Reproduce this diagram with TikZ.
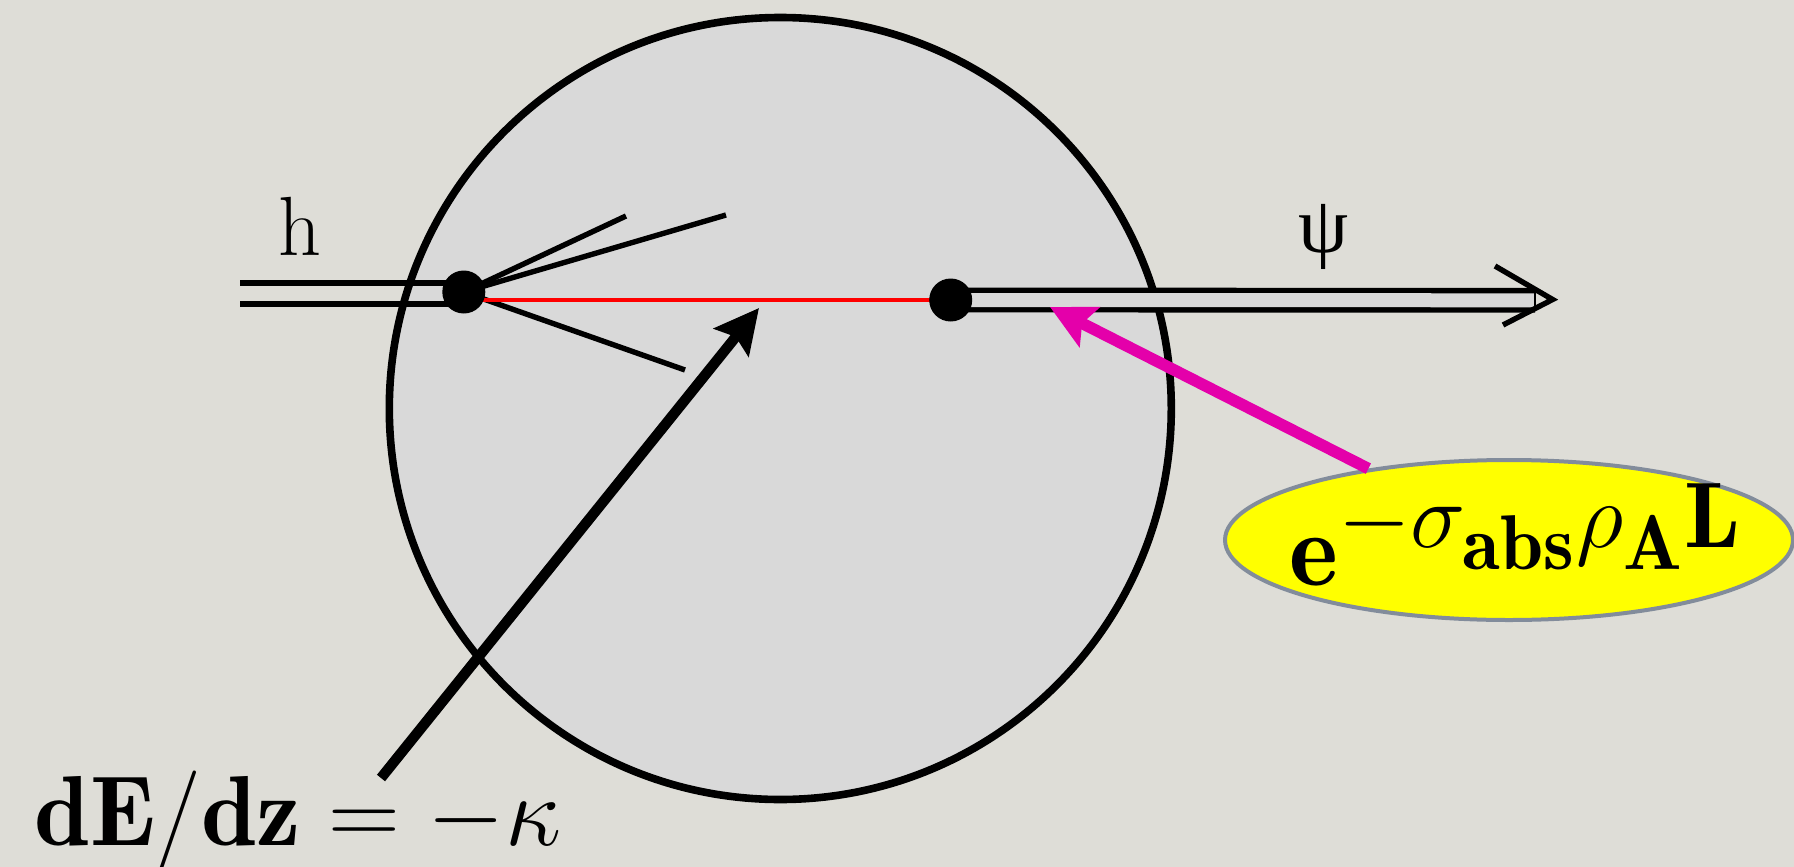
\documentclass[tikz,border=0pt]{standalone}
\usepackage{fontspec}
\newfontfamily\psifont{Liberation Serif}
\usetikzlibrary{arrows.meta,shapes.geometric}
\definecolor{bgc}{RGB}{222,221,215}
\definecolor{nucfill}{RGB}{217,217,217}
\definecolor{magarrow}{RGB}{228,0,170}
\definecolor{ellborder}{RGB}{130,140,155}
\definecolor{ellfill}{RGB}{255,255,0}
\pgfdeclarelayer{back}
\pgfdeclarelayer{lines}
\pgfsetlayers{back,lines,main}
\begin{document}
\begin{tikzpicture}[x=0.5pt,y=-0.5pt,
  dotnode/.style={circle,fill=black,inner sep=0pt,minimum size=21.5pt},
  trackline/.style={line width=2.7pt},
  redtrack/.style={line width=2.4pt,red},
  blackarrow/.style={line width=5.2pt,-{Stealth[length=22pt,width=22pt,inset=3.5pt]}},
  magentaarrow/.style={line width=5.8pt,magarrow,-{Stealth[length=22pt,width=22pt,inset=4pt]}},
  bigmath/.style={font=\Huge,inner sep=0pt}]
\useasboundingbox (0,0) rectangle (1794,867);
\begin{pgfonlayer}{back}
  \fill[bgc] (0,0) rectangle (1794,867);
  \node[circle,draw=black,fill=nucfill,line width=3.8pt,minimum size=391pt,inner sep=0pt] (nucleus) at (780.3,408.5) {};
\end{pgfonlayer}
% dots
\node[dotnode] (dot1) at (463.8,292) {};
\node[dotnode] (dot2) at (950.7,300) {};
% free ends
\coordinate (hin) at (240,293.5);
\coordinate (hend) at (463.8,293.5);
\coordinate (s1) at (626,216);
\coordinate (s2) at (726,215);
\coordinate (s3) at (685,370);
\coordinate (psiend) at (1535,300.3);
\coordinate (psitip) at (1552.6,299.5);
\coordinate (psiarmA) at (1495,266);
\coordinate (psiarmB) at (1503,325);
\coordinate (arrtail) at (381,778);
\coordinate (arrtip) at (759,308);
\coordinate (magtip) at (1050,307);
\begin{pgfonlayer}{lines}
  \draw[trackline] ([yshift=5.25pt]hin) -- ([yshift=5.25pt]hend);
  \draw[trackline] ([yshift=-5.25pt]hin) -- ([yshift=-5.25pt]hend);
  \draw[trackline] (dot1.center) -- (s1);
  \draw[trackline] (dot1.center) -- (s2);
  \draw[trackline] (dot1.center) -- (s3);
  \draw[redtrack] ([yshift=-4pt]dot1.center) -- (dot2.center);
  \draw[trackline,double=nucfill,double distance=7pt] (dot2.center) -- (psiend);
  \draw[line width=1pt] ([yshift=4pt]psiend) -- ([yshift=-4pt]psiend);
  \draw[trackline,line join=miter] (psiarmA) -- (psitip) -- (psiarmB);
\end{pgfonlayer}
% labels
\node[anchor=base,inner sep=0pt,font=\fontsize{42}{46}\selectfont] (hlabel) at (300,255) {h};
\node[anchor=base,inner sep=0pt,font=\psifont\fontsize{40}{44}\selectfont] (psilabel) at (1324,252) {ψ};
% black arrow
\draw[blackarrow] (arrtail) -- (arrtip);
\node[bigmath,scale=2.0,anchor=base] (dedz) at (298,845) {$\mathbf{dE}/\mathbf{dz}=-\kappa$};
% ellipse
\node[ellipse,draw=ellborder,fill=ellfill,line width=2pt,minimum width=284pt,minimum height=80pt,inner sep=0pt] (ell) at (1509,540) {};
\node[bigmath,scale=2.1] (formula) at (1516,535) {$\mathbf{e}^{\scalebox{1.07}{$\scriptstyle -\sigma_{\mathbf{abs}}\rho_{\mathbf{A}}\mathbf{L}$}}$};
\draw[magentaarrow] (ell) -- (magtip);
\end{tikzpicture}
\end{document}
